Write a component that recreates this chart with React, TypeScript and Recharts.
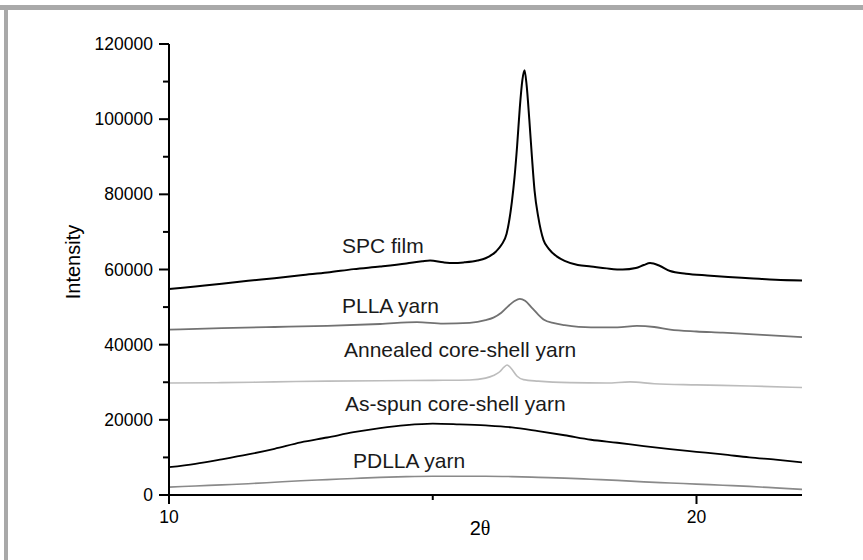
import React from 'react';
import { LineChart, Line, XAxis, YAxis } from 'recharts';

// 2θ positions (deg) and intensities
const spcTheta = [
  10, 10.5, 11, 11.5, 12, 12.5, 13, 13.5, 14, 14.5, 14.8, 14.95, 15.2, 15.4, 15.6, 15.85, 16.0, 16.2, 16.3, 16.4,
  16.5, 16.55, 16.6, 16.65, 16.7, 16.74, 16.78, 16.83, 16.88, 16.93, 17.0, 17.1, 17.2, 17.35, 17.5, 17.75, 18.0, 18.3,
  18.6, 18.85, 19.0, 19.12, 19.3, 19.5, 19.8, 20.2, 20.6, 21.0, 21.5, 22.0,
];
const spcCounts = [
  54800, 55500, 56200, 57000, 57700, 58500, 59200, 60100, 60800, 61600, 62200, 62400, 61900, 61700, 61900, 62400,
  63000, 64800, 66500, 69500, 78000, 84500, 93000, 103000, 110500, 113000, 109000, 100000, 90000, 81000, 74000,
  67800, 65500, 63500, 62300, 61200, 60800, 60300, 60000, 60400, 61200, 61700, 61000, 59600, 58900, 58400, 58000,
  57700, 57300, 57100,
];

const pllaTheta = [
  10, 11, 12, 13, 14, 14.7, 15.2, 15.7, 16.0, 16.15, 16.3, 16.45, 16.55, 16.65, 16.75, 16.88, 17.0, 17.1, 17.3, 17.5,
  18.0, 18.5, 18.87, 19.2, 19.5, 20, 20.5, 21, 21.5, 22,
];
const pllaCounts = [
  44000, 44400, 44700, 45000, 45500, 46000, 45600, 45800, 46500, 47200, 48500, 50500, 51600, 52200, 51700, 49800,
  48000, 46700, 45700, 45200, 44600, 44600, 45000, 44700, 44000, 43500, 43200, 42800, 42400, 42000,
];

const annealedTheta = [
  10, 11, 12, 13, 14, 15, 15.7, 16.0, 16.15, 16.27, 16.35, 16.41, 16.48, 16.6, 16.72, 17.0, 17.6, 18.3, 18.74, 19.2,
  20, 21, 22,
];
const annealedCounts = [
  29800, 29900, 30100, 30300, 30400, 30500, 30600, 31100, 31800, 32800, 34000, 34600, 33800, 31600, 30700, 30300,
  29900, 29800, 30100, 29600, 29300, 29000, 28600,
];

const broadTheta = [
  10, 10.5, 11, 11.5, 12, 12.5, 13, 13.5, 14, 14.5, 15, 15.5, 16, 16.5, 17, 17.5, 18, 18.5, 19, 19.5, 20, 20.5, 21,
  21.5, 22,
];
const asSpunCounts = [
  7400, 8300, 9500, 10800, 12300, 14000, 15300, 16700, 17800, 18600, 19000, 18800, 18500, 18000, 17000, 15900, 14700,
  13900, 13000, 12200, 11500, 10800, 10000, 9400, 8700,
];
const pdllaCounts = [
  2100, 2400, 2700, 3000, 3400, 3800, 4100, 4400, 4700, 4900, 5000, 5000, 5000, 4900, 4700, 4500, 4200, 3900, 3500,
  3200, 2900, 2600, 2300, 1900, 1500,
];

const xTicks = [10, 15, 20];
const yTicks = [0, 10000, 20000, 30000, 40000, 50000, 60000, 70000, 80000, 90000, 100000, 110000, 120000];

const toPoints = (theta: number[], counts: number[]) => theta.map((x, i) => ({ x, y: counts[i] }));

const FONT = '"Liberation Sans", Arial, sans-serif';

const YTick = (props: any) => {
  const { x, y, payload } = props;
  const major = payload.value % 20000 === 0;
  return (
    <g>
      <line x1={x - (major ? 10 : 6)} x2={x} y1={y} y2={y} stroke="#000" strokeWidth={2} />
      {major && (
        <text x={x - 16} y={y + 6} textAnchor="end" fontSize={17.5} fontFamily={FONT} fill="#000">
          {payload.value}
        </text>
      )}
    </g>
  );
};

const XTick = (props: any) => {
  const { x, y, payload } = props;
  const major = payload.value % 10 === 0;
  return (
    <g>
      <line x1={x} x2={x} y1={y} y2={y + (major ? 9 : 5)} stroke="#000" strokeWidth={2} />
      {major && (
        <text x={x} y={y + 28} textAnchor="middle" fontSize={17.5} fontFamily={FONT} fill="#000">
          {payload.value}
        </text>
      )}
    </g>
  );
};

const notes = [
  { text: 'SPC film', x: 342, y: 253 },
  { text: 'PLLA yarn', x: 342, y: 313 },
  { text: 'Annealed core-shell yarn', x: 344, y: 357 },
  { text: 'As-spun core-shell yarn', x: 345, y: 411 },
  { text: 'PDLLA yarn', x: 353, y: 468 },
];

export default function App() {
  return (
    <div style={{ position: 'absolute', left: 0, top: 0, width: 863, height: 560, background: '#fff' }}>
      <LineChart width={863} height={560} margin={{ top: 44, right: 61, bottom: 35, left: 109 }}>
        <XAxis
          type="number"
          dataKey="x"
          domain={[10, 22]}
          ticks={xTicks}
          interval={0}
          allowDataOverflow
          height={30}
          tickSize={0}
          tickMargin={0}
          tickLine={false}
          tick={<XTick />}
          axisLine={{ stroke: '#000', strokeWidth: 2 }}
        />
        <YAxis
          type="number"
          domain={[0, 120000]}
          ticks={yTicks}
          interval={0}
          width={60}
          tickSize={0}
          tickMargin={0}
          tickLine={false}
          tick={<YTick />}
          axisLine={{ stroke: '#000', strokeWidth: 2 }}
        />
        <Line data={toPoints(broadTheta, pdllaCounts)} dataKey="y" type="monotone" stroke="#8a8a8a" strokeWidth={1.6} dot={false} isAnimationActive={false} />
        <Line data={toPoints(broadTheta, asSpunCounts)} dataKey="y" type="monotone" stroke="#000" strokeWidth={1.8} dot={false} isAnimationActive={false} />
        <Line data={toPoints(annealedTheta, annealedCounts)} dataKey="y" type="monotone" stroke="#bcbcbc" strokeWidth={1.6} dot={false} isAnimationActive={false} />
        <Line data={toPoints(pllaTheta, pllaCounts)} dataKey="y" type="monotone" stroke="#727272" strokeWidth={1.8} dot={false} isAnimationActive={false} />
        <Line data={toPoints(spcTheta, spcCounts)} dataKey="y" type="monotone" stroke="#000" strokeWidth={2} dot={false} isAnimationActive={false} />
      </LineChart>
      <svg width={863} height={560} style={{ position: 'absolute', left: 0, top: 0, pointerEvents: 'none' }}>
        <rect x={0} y={5} width={863} height={5} fill="#a9a9a9" />
        <rect x={4} y={5} width={4} height={555} fill="#a9a9a9" />
        {notes.map((n) => (
          <text key={n.text} x={n.x} y={n.y} fontSize={21} fontFamily={FONT} fill="#1a1a1a">
            {n.text}
          </text>
        ))}
        <text x={80} y={262} transform="rotate(-90 80 262)" textAnchor="middle" fontSize={20} fontFamily={FONT} fill="#000">
          Intensity
        </text>
        <text x={480} y={535} textAnchor="middle" fontSize={20} fontFamily={FONT} fill="#000">
          2<tspan fontFamily='"Liberation Serif", serif'>θ</tspan>
        </text>
      </svg>
    </div>
  );
}
